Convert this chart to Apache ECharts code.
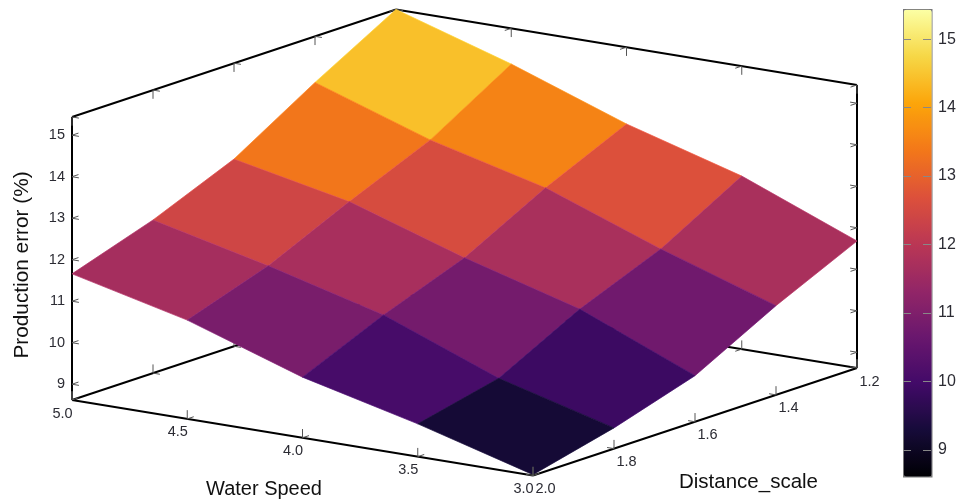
<!DOCTYPE html>
<html>
<head>
<meta charset="utf-8">
<style>html,body{margin:0;padding:0;background:#fff}#c{width:965px;height:500px}</style>
<script src="https://cdn.jsdelivr.net/npm/echarts@6/dist/echarts.min.js"></script>
</head>
<body>
<div id="c"></div>
<script>
// ---------- data ----------
var speeds = [5.0, 4.5, 4.0, 3.5, 3.0];
var distances = [2.0, 1.8, 1.6, 1.4, 1.2];
var errorAtDist20 = [11.66, 11.00, 10.08, 9.41, 8.64];
var errorAtDist18 = [12.31, 11.66, 10.93, 9.86, 9.12];
var errorAtDist16 = [13.13, 12.56, 11.66, 10.88, 9.73];
var errorAtDist14 = [14.33, 13.40, 12.70, 11.68, 10.77];
var errorAtDist12 = [15.44, 14.58, 13.59, 12.79, 11.68];
var errorTicks = [9, 10, 11, 12, 13, 14, 15];
var speedLabels = ['5.0', '4.5', '4.0', '3.5', '3.0'];
var distanceLabels = ['2.0', '1.8', '1.6', '1.4', '1.2'];
var zMin = 8.62, zMax = 15.44;
var inferno = ['#000004','#160b39','#420a68','#6a176e','#932667','#bb3754','#dd513a','#f37819','#fca50a','#f6d746','#fcffa4'];
var errorRows = [errorAtDist20, errorAtDist18, errorAtDist16, errorAtDist14, errorAtDist12];

// ---------- view projection (orthographic, gnuplot-like) ----------
var view = { x0: 72, y0: 400, ux: 461, uy: 75.5, vx: 324, vy: -107.5, zs: 41.5 };
function project(s, d, z) {
  var u = (5 - s) / 2, v = (2 - d) / 0.8;
  return [view.x0 + view.ux * u + view.vx * v,
          view.y0 + view.uy * u + view.vy * v - view.zs * (z - zMin)];
}

// ---------- frame segments ----------
var dU = 0.03, dV = 0.016, dZ = 0.21; // tick stub lengths, model units
function seg(a, b, kind) { return [a[0], a[1], a[2], b[0], b[1], b[2], kind]; }
var backSegs = [], frontSegs = [];
backSegs.push(seg([5,2,zMin],[5,1.2,zMin],1));
backSegs.push(seg([5,1.2,zMin],[3,1.2,zMin],1));
backSegs.push(seg([5,2,zMax],[5,1.2,zMax],1));
backSegs.push(seg([5,1.2,zMax],[3,1.2,zMax],1));
backSegs.push(seg([5,2,zMin],[5,2,zMax],1));
backSegs.push(seg([3,1.2,zMin],[3,1.2,zMax],1));
frontSegs.push(seg([5,2,zMin],[3,2,zMin],1));
frontSegs.push(seg([3,2,zMin],[3,1.2,zMin],1));
speeds.forEach(function (s) {
  backSegs.push(seg([s,1.2,zMin],[s,1.2,zMin+dZ],0));
  backSegs.push(seg([s,1.2,zMin],[s,1.2+dV,zMin],0));
  backSegs.push(seg([s,1.2,zMax],[s,1.2,zMax-dZ],0));
  backSegs.push(seg([s,1.2,zMax],[s,1.2+dV,zMax],0));
  frontSegs.push(seg([s,2,zMin],[s,2,zMin+dZ],0));
  frontSegs.push(seg([s,2,zMin],[s,2-dV,zMin],0));
});
distances.forEach(function (d) {
  backSegs.push(seg([5,d,zMin],[5,d,zMin+dZ],0));
  backSegs.push(seg([5,d,zMin],[5-dU,d,zMin],0));
  backSegs.push(seg([5,d,zMax],[5,d,zMax-dZ],0));
  backSegs.push(seg([5,d,zMax],[5-dU,d,zMax],0));
  frontSegs.push(seg([3,d,zMin],[3,d,zMin+dZ],0));
  frontSegs.push(seg([3,d,zMin],[3+dU,d,zMin],0));
});
errorTicks.forEach(function (z) {
  backSegs.push(seg([5,2,z],[5-dU,2,z],0));
  backSegs.push(seg([5,2,z],[5,2-dV,z],0));
  backSegs.push(seg([3,1.2,z],[3+dU,1.2,z],0));
  backSegs.push(seg([3,1.2,z],[3,1.2+dV,z],0));
});

// ---------- surface cells (flat colour = mean of the corners) ----------
var cells = [];
for (var j = distances.length - 2; j >= 0; j--) {
  for (var i = 0; i < speeds.length - 1; i++) {
    var m = (errorRows[j][i] + errorRows[j][i+1] + errorRows[j+1][i] + errorRows[j+1][i+1]) / 4;
    cells.push([i, j, m]);
  }
}

// ---------- tick labels ----------
var labelRows = [];
speeds.forEach(function (s, i) {
  var p = project(s, 2, zMin);
  labelRows.push([p[0] - 9.5, p[1] + 13.5, speedLabels[i], 'center']);
});
distances.forEach(function (d, i) {
  var p = project(3, d, zMin);
  labelRows.push([p[0] + 12.5, p[1] + 13.5, distanceLabels[i], 'center']);
});
errorTicks.forEach(function (z) {
  var p = project(5, 2, z);
  labelRows.push([p[0] - 7, p[1], String(z), 'right']);
});

function renderSeg(params, api) {
  var a = api.coord(project(api.value(0), api.value(1), api.value(2)));
  var b = api.coord(project(api.value(3), api.value(4), api.value(5)));
  var strong = api.value(6) === 1;
  return { type: 'line', silent: true,
    shape: { x1: a[0], y1: a[1], x2: b[0], y2: b[1] },
    style: { stroke: strong ? '#000' : '#555', lineWidth: strong ? 2 : 1 } };
}
function renderCell(params, api) {
  var i = api.value(0), j = api.value(1);
  var corners = [[i,j],[i+1,j],[i+1,j+1],[i,j+1]].map(function (c) {
    return api.coord(project(speeds[c[0]], distances[c[1]], errorRows[c[1]][c[0]]));
  });
  var col = api.visual('color');
  return { type: 'polygon', silent: true, shape: { points: corners },
    style: { fill: col, stroke: echarts.color.lift(col, -0.1), lineWidth: 0.7 } };
}
function renderLabel(params, api) {
  var p = api.coord([api.value(0), api.value(1)]);
  return { type: 'text', silent: true,
    style: { text: labelRows[params.dataIndex][2], x: p[0], y: p[1],
      align: labelRows[params.dataIndex][3], verticalAlign: 'middle',
      fontFamily: 'Liberation Sans', fontSize: 14.5, fill: '#2b2b33' } };
}

var titleFont = { fontFamily: 'Liberation Sans', fontSize: 20, fill: '#111' };
var chart = echarts.init(document.getElementById('c'), null, { renderer: 'canvas' });
chart.setOption({
  animation: false,
  backgroundColor: '#fff',
  grid: [
    { left: 0, top: 0, width: 965, height: 500, show: false },
    { left: 903, top: 9, width: 28, height: 467, show: false }
  ],
  xAxis: [
    { gridIndex: 0, type: 'value', min: 0, max: 965, show: false },
    { gridIndex: 1, type: 'value', min: 0, max: 1, show: false }
  ],
  yAxis: [
    { gridIndex: 0, type: 'value', min: 0, max: 500, inverse: true, show: false },
    { gridIndex: 1, type: 'value', min: zMin, max: zMax, position: 'left', z: 10,
      axisLine: { show: false }, splitLine: { show: false }, axisLabel: { show: false },
      axisTick: { show: true, inside: true, length: 8, customValues: errorTicks,
                  lineStyle: { color: '#888', width: 1 } } },
    { gridIndex: 1, type: 'value', min: zMin, max: zMax, position: 'right', z: 10,
      axisLine: { show: false }, splitLine: { show: false },
      axisLabel: { show: true, margin: 7, fontFamily: 'Liberation Sans', fontSize: 16,
                   color: '#2b2b33', customValues: errorTicks },
      axisTick: { show: true, inside: true, length: 8, customValues: errorTicks,
                  lineStyle: { color: '#888', width: 1 } } }
  ],
  visualMap: {
    type: 'continuous', show: true, seriesIndex: 1, dimension: 2,
    min: zMin, max: zMax, left: 903, top: 9, itemWidth: 28, itemHeight: 467,
    padding: 0, calculable: false, realtime: false, silent: true,
    text: null, showLabel: false, inRange: { color: inferno },
    borderColor: '#777', borderWidth: 1.5, hoverLink: false, z: 4
  },
  graphic: [
    { type: 'text', silent: true, left: 206, top: 479.5,
      style: Object.assign({ text: 'Water Speed' }, titleFont) },
    { type: 'text', silent: true, left: 679, top: 471.5,
      style: { text: 'Distance_scale', fontFamily: 'Liberation Sans', fontSize: 20.5, fill: '#111' } },
    { type: 'text', silent: true, rotation: Math.PI / 2, x: 22, y: 265,
      style: { text: 'Production error (%)', align: 'center', verticalAlign: 'middle',
               fontFamily: 'Liberation Sans', fontSize: 20.8, fill: '#111' } }
  ],
  series: [
    { type: 'custom', coordinateSystem: 'cartesian2d', xAxisIndex: 0, yAxisIndex: 0, z: 2, silent: true,
      clip: false, data: backSegs, renderItem: renderSeg },
    { type: 'custom', coordinateSystem: 'cartesian2d', xAxisIndex: 0, yAxisIndex: 0, z: 3, silent: true,
      clip: false, dimensions: ['i','j','mean'], encode: { x: 0, y: 1 }, data: cells, renderItem: renderCell },
    { type: 'custom', coordinateSystem: 'cartesian2d', xAxisIndex: 0, yAxisIndex: 0, z: 4, silent: true,
      clip: false, data: frontSegs, renderItem: renderSeg },
    { type: 'custom', coordinateSystem: 'cartesian2d', xAxisIndex: 0, yAxisIndex: 0, z: 5, silent: true,
      clip: false, encode: { x: 0, y: 1 }, data: labelRows.map(function (r) { return [r[0], r[1]]; }), renderItem: renderLabel }
  ]
});
</script>
</body>
</html>
